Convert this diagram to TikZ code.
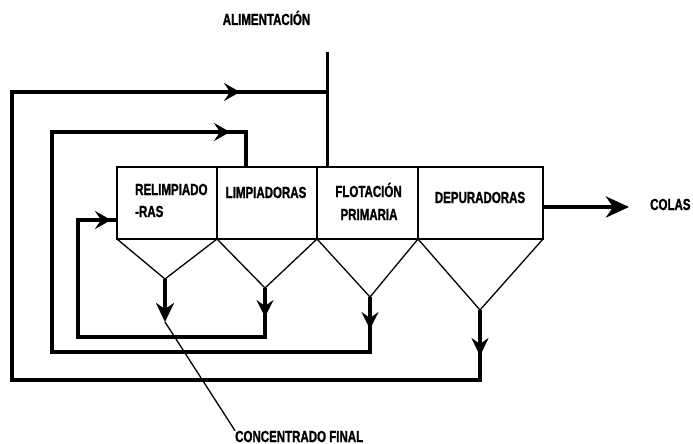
\documentclass[tikz,border=0pt]{standalone}
\usepackage{fontspec}
\newfontfamily\lab{Liberation Sans Bold}[FakeStretch=0.72,FakeBold=1.2]
\usetikzlibrary{arrows.meta,decorations.markings}
\begin{document}
\begin{tikzpicture}[x=1pt,y=-1pt,
  unit/.style={draw,line width=1.6pt,minimum height=72pt,inner sep=0pt,outer sep=0pt},
  funnel/.style={line width=1.3pt},
  flow/.style={line width=3.8pt,line join=miter},
  head/.style={-{Stealth[length=19pt,width=18pt,inset=6pt]}},
  bighead/.style={-{Stealth[length=23pt,width=21pt,inset=7pt]}},
  lbl/.style={font=\lab\fontsize{16}{22}\selectfont,inner sep=0pt}]
\useasboundingbox (0,0) rectangle (693,444);
% units
\node[unit,minimum width=100pt] (b1) at (167,203) {};
\node[unit,minimum width=100pt] (b2) at (267,203) {};
\node[unit,minimum width=101pt] (b3) at (367.5,203) {};
\node[unit,minimum width=125pt] (b4) at (480.5,203) {};
% funnel apexes
\coordinate (a1) at (165,279);
\coordinate (a2) at (265,288);
\coordinate (a3) at (370,297);
\coordinate (a4) at (480,310);
\draw[funnel] (b1.south west) -- (a1) -- (b1.south east);
\draw[funnel] (b2.south west) -- (a2) -- (b2.south east);
\draw[funnel] (b3.south west) -- (a3) -- (b3.south east);
\draw[funnel] (b4.south west) -- (a4) -- (b4.south east);
% feed
\coordinate (feed) at (327,52);
\coordinate (fin) at (327,167);
\draw[line width=3pt] (feed) -- (fin);
% loop from depuradoras
\coordinate (j4) at (327,92);
\draw[flow,postaction={decorate},decoration={markings,
   mark=at position 46pt with {\arrow{Stealth[length=18pt,width=17pt,inset=6pt]}},
   mark=at position -87pt with {\arrow{Stealth[length=16pt,width=18pt,inset=6pt]}}}]
  (a4) -- (480,380) -- (12,380) -- (12,92) -- (j4);
% loop from flotacion primaria
\coordinate (in2) at (246,167);
\draw[flow,postaction={decorate},decoration={markings,
   mark=at position 32pt with {\arrow{Stealth[length=17pt,width=17pt,inset=6pt]}},
   mark=at position -51pt with {\arrow{Stealth[length=16pt,width=18pt,inset=6pt]}}}]
  (a3) -- (370,352) -- (52,352) -- (52,132) -- (246,132) -- (in2);
% loop from limpiadoras
\coordinate (in1) at (117,220);
\draw[flow,postaction={decorate},decoration={markings,
   mark=at position 29pt with {\arrow{Stealth[length=17pt,width=17pt,inset=6pt]}},
   mark=at position -6pt with {\arrow{Stealth[length=16pt,width=18pt,inset=6pt]}}}]
  (a2) -- (265,337) -- (78,337) -- (78,220) -- (in1);
% concentrate
\coordinate (c1) at (165,322);
\draw[flow,head] (a1) -- (c1);
% tails
\coordinate (t0) at (543,207);
\coordinate (t1) at (629,207);
\draw[flow,bighead] (t0) -- (t1);
% labels
\node[lbl,anchor=base] (alim) at (266.5,25) {ALIMENTACIÓN};
\node[lbl,anchor=base west] (l1a) at (135,195) {RELIMPIADO};
\node[lbl,anchor=base west] (l1b) at (135,217) {-RAS};
\node[lbl,anchor=base] (l2) at (266,198) {LIMPIADORAS};
\node[lbl,anchor=base] (l3a) at (368.5,197) {FLOTACIÓN};
\node[lbl,anchor=base] (l3b) at (369,220) {PRIMARIA};
\node[lbl,anchor=base] (l4) at (480,203) {DEPURADORAS};
\node[lbl,anchor=base west] (colas) at (650,210) {COLAS};
\node[lbl,anchor=base west] (conc) at (235,442) {CONCENTRADO FINAL};
\draw[line width=1.3pt] (c1) -- (conc.north west);
\end{tikzpicture}
\end{document}
